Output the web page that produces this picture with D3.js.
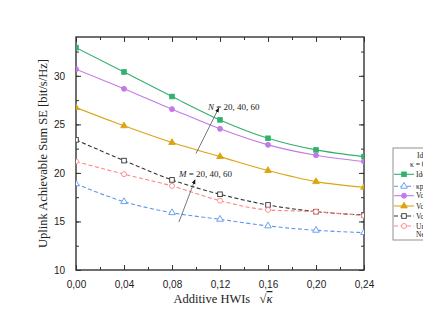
<!DOCTYPE html>
<html>
<head>
<meta charset="utf-8">
<script src="https://cdn.jsdelivr.net/npm/d3@7"></script>
<style>
  body { margin: 0; background: #fff; }
  svg { display: block; }
  .tick text { font-family: "Liberation Sans", Arial, sans-serif; font-size: 10px; fill: #222; }
  .serif { font-family: "Liberation Serif", "DejaVu Serif", serif; fill: #222; white-space: pre; }
</style>
</head>
<body>
<svg id="chart" width="423" height="324"></svg>
<script>
// 1] data --------------------------------------------
const kappa = [0, 0.04, 0.08, 0.12, 0.16, 0.20, 0.24]
const xTickLabels = ["0,00", "0,04", "0,08", "0,12", "0,16", "0,20", "0,24"]
const yTicks = [10, 15, 20, 25, 30]

const idealN = [32.9, 30.4, 27.87, 25.46, 23.57, 22.37, 21.68]
const kappaP = [18.87, 17.04, 15.9, 15.22, 14.54, 14.09, 13.85]
const volPurple = [30.69, 28.66, 26.57, 24.54, 22.89, 21.82, 21.17]
const volOrange = [26.73, 24.85, 23.13, 21.68, 20.24, 19.1, 18.52]
const volBlack = [23.4, 21.27, 19.28, 17.8, 16.7, 16.01, 15.67]
const unRed = [21.17, 19.87, 18.66, 17.14, 16.19, 16.01, 15.6]

const series = [
    { name: "Ideal ADCs", values: idealN, color: "#33b06e", dash: null, marker: "square", fill: true },
    { name: "κ_p = 0,1", values: kappaP, color: "#5b95f0", dash: "4,2.5", marker: "triangle", fill: false },
    { name: "Vo N = 40", values: volPurple, color: "#c27ae8", dash: null, marker: "circle", fill: true },
    { name: "Vo N = 20", values: volOrange, color: "#dba413", dash: null, marker: "triangle", fill: true },
    { name: "Vo M = 40", values: volBlack, color: "#333333", dash: "4,2.5", marker: "square", fill: false },
    { name: "Uniform M = 20", values: unRed, color: "#ff8585", dash: "4,2.5", marker: "circle", fill: false },
]

// annotations (data coords)
const arrows = [
    { label: "N", x1: 0.1, y1: 22.0, x2: 0.119, y2: 26.7, tx: 0.11, ty: 26.45 },
    { label: "M", x1: 0.0858, y1: 14.95, x2: 0.0992, y2: 19.3, tx: 0.0858, ty: 19.6 },
]

// 2] layout -------------------------------------------
const margin = { left: 76, right: 59, top: 37, bottom: 54 }
const width = 423
const height = 324
const svg = d3.select("#chart")

const xScale = d3.scaleLinear().domain([0, 0.24]).range([margin.left, width - margin.right])
const yScale = d3.scaleLinear().domain([10, 34]).range([height - margin.bottom, margin.top])

svg.append("defs").append("clipPath").attr("id", "clip")
    .append("rect")
    .attr("x", margin.left).attr("y", margin.top)
    .attr("width", xScale(0.24) - xScale(0)).attr("height", yScale(10) - yScale(34))

svg.select("defs").append("marker")
    .attr("id", "arrowhead")
    .attr("viewBox", "0 0 10 10").attr("refX", 9).attr("refY", 5)
    .attr("markerWidth", 6).attr("markerHeight", 6)
    .attr("orient", "auto")
    .append("path").attr("d", "M0,1 L10,5 L0,9 Z").attr("fill", "#111")

// 3] axes ---------------------------------------------
const minorX = d3.range(0, 0.2401, 0.02)
const minorY = d3.range(10, 34.01, 2.5)
const axisColor = "#333"

function styleAxis(g) {
    g.select(".domain").remove()
    g.selectAll(".tick line").attr("stroke", axisColor)
}

// bottom
svg.append("g").attr("transform", `translate(0,${yScale(10)})`)
    .call(d3.axisBottom(xScale).tickValues(minorX).tickSize(-3).tickFormat(""))
    .call(styleAxis)
svg.append("g").attr("transform", `translate(0,${yScale(10)})`)
    .call(d3.axisBottom(xScale).tickValues(kappa).tickSize(-5).tickPadding(11)
        .tickFormat((d, i) => xTickLabels[i]))
    .call(styleAxis)
// top
svg.append("g").attr("transform", `translate(0,${yScale(34)})`)
    .call(d3.axisTop(xScale).tickValues(minorX).tickSize(-3).tickFormat(""))
    .call(styleAxis)
svg.append("g").attr("transform", `translate(0,${yScale(34)})`)
    .call(d3.axisTop(xScale).tickValues(kappa).tickSize(-5).tickFormat(""))
    .call(styleAxis)
// left
svg.append("g").attr("transform", `translate(${xScale(0)},0)`)
    .call(d3.axisLeft(yScale).tickValues(minorY).tickSize(-3).tickFormat(""))
    .call(styleAxis)
svg.append("g").attr("transform", `translate(${xScale(0)},0)`)
    .call(d3.axisLeft(yScale).tickValues(yTicks).tickSize(-5).tickPadding(11).tickFormat(d3.format("d")))
    .call(styleAxis)
// right
svg.append("g").attr("transform", `translate(${xScale(0.24)},0)`)
    .call(d3.axisRight(yScale).tickValues(minorY).tickSize(-3).tickFormat(""))
    .call(styleAxis)
svg.append("g").attr("transform", `translate(${xScale(0.24)},0)`)
    .call(d3.axisRight(yScale).tickValues(yTicks).tickSize(-5).tickFormat(""))
    .call(styleAxis)

// frame
svg.append("rect")
    .attr("x", xScale(0)).attr("y", yScale(34))
    .attr("width", xScale(0.24) - xScale(0)).attr("height", yScale(10) - yScale(34))
    .attr("fill", "none").attr("stroke", axisColor).attr("stroke-width", 1.4)

// 4] lines & markers ----------------------------------
const line = d3.line()
    .x((d, i) => xScale(kappa[i]))
    .y(d => yScale(d))
    .curve(d3.curveMonotoneX)

function drawMarker(g, type, cx, cy, color, fill) {
    const f = fill ? color : "#fff"
    if (type === "square") {
        g.append("rect").attr("x", cx - 2.3).attr("y", cy - 2.3).attr("width", 4.6).attr("height", 4.6)
            .attr("fill", f).attr("stroke", color).attr("stroke-width", 0.9)
    } else if (type === "circle") {
        g.append("circle").attr("cx", cx).attr("cy", cy).attr("r", 2.5)
            .attr("fill", f).attr("stroke", color).attr("stroke-width", 0.9)
    } else {
        const s = d3.symbol().type(d3.symbolTriangle).size(19)
        g.append("path").attr("d", s()).attr("transform", `translate(${cx},${cy})`)
            .attr("fill", f).attr("stroke", color).attr("stroke-width", 0.9)
    }
}

const plot = svg.append("g").attr("clip-path", "url(#clip)")
series.forEach(s => {
    plot.append("path")
        .attr("d", line(s.values))
        .attr("fill", "none")
        .attr("stroke", s.color)
        .attr("stroke-width", 1.1)
        .attr("stroke-dasharray", s.dash)
    s.values.forEach((v, i) => drawMarker(plot, s.marker, xScale(kappa[i]), yScale(v), s.color, s.fill))
})

// 5] annotations --------------------------------------
arrows.forEach(a => {
    svg.append("line")
        .attr("x1", xScale(a.x1)).attr("y1", yScale(a.y1))
        .attr("x2", xScale(a.x2)).attr("y2", yScale(a.y2))
        .attr("stroke", "#555").attr("stroke-width", 0.8)
        .attr("marker-end", "url(#arrowhead)")
    const t = svg.append("text").attr("class", "serif")
        .attr("x", xScale(a.tx)).attr("y", yScale(a.ty))
        .attr("font-size", 9)
    t.append("tspan").attr("font-style", "italic").text(a.label)
    t.append("tspan").text(" = 20, 40, 60")
})

// axis titles
svg.append("text").attr("class", "serif")
    .attr("transform", `translate(47,${(yScale(10) + yScale(34)) / 2}) rotate(-90)`)
    .attr("text-anchor", "middle").attr("font-size", 12.5)
    .text("Uplink Achievable Sum SE [bit/s/Hz]")

const xt = svg.append("text").attr("class", "serif")
    .attr("x", 223).attr("y", 303)
    .attr("text-anchor", "middle").attr("font-size", 12.5)
xt.append("tspan").text("Additive HWIs\u00a0\u00a0\u00a0√")
xt.append("tspan").attr("font-style", "italic")
    .attr("text-decoration", "overline").text("κ")

// 6] legend -------------------------------------------
const legendRows = [
    { text: "Ideal hardware", series: null, dx: 24 },
    { text: "κ = 0", series: null, dx: 17 },
    { text: series[0].name, series: series[0] },
    { text: "κp = 0,1", series: series[1] },
    { text: series[2].name, series: series[2] },
    { text: series[3].name, series: series[3] },
    { text: series[4].name, series: series[4] },
    { text: series[5].name, series: series[5] },
    { text: "Near-optimal", series: null, dx: 23 },
]
const lx = 393, ly = 148
const legend = svg.append("g")
legend.append("rect").attr("x", lx).attr("y", ly).attr("width", 90).attr("height", 92)
    .attr("fill", "#fff").attr("stroke", "#777").attr("stroke-width", 0.8)
const rowY = [7.7, 16.5, 26.3, 38.3, 47.7, 58, 68, 78, 86.5]
legendRows.forEach((r, i) => {
    const y = ly + rowY[i]
    if (r.series) {
        legend.append("line").attr("x1", lx + 1).attr("x2", lx + 21).attr("y1", y).attr("y2", y)
            .attr("stroke", r.series.color).attr("stroke-width", 1.1)
            .attr("stroke-dasharray", r.series.dash)
        drawMarker(legend, r.series.marker, lx + 11, y, r.series.color, r.series.fill)
    }
    legend.append("text").attr("class", "serif")
        .attr("x", lx + (r.dx || 23)).attr("y", y + 2.7)
        .attr("font-size", 7.5).text(r.text)
})
</script>
</body>
</html>
